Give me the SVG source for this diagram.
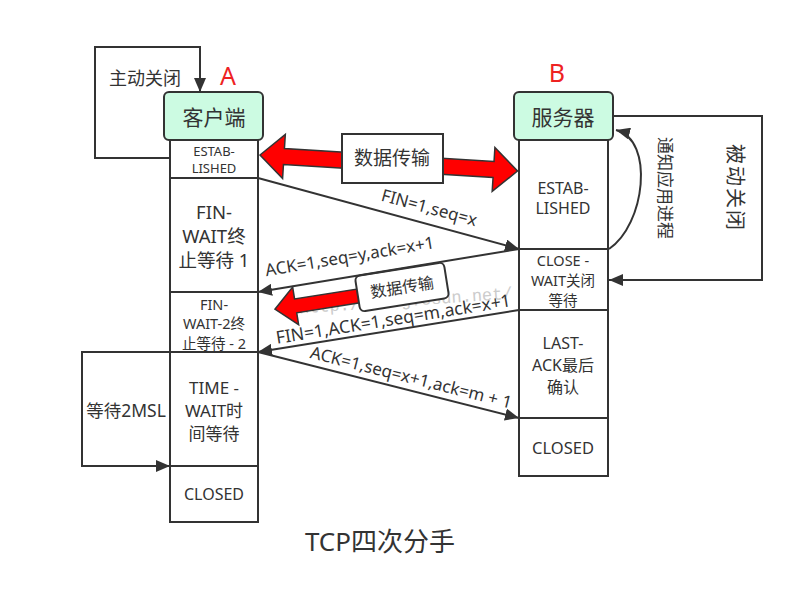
<svg xmlns="http://www.w3.org/2000/svg" width="796" height="590" viewBox="0 0 796 590">
<defs>
<style>
text{font-family:"Noto Sans","Noto Sans CJK SC",sans-serif;fill:#333;}
.cell-t{font-family:Lato,"Noto Sans CJK SC",sans-serif;}
.ln{fill:none;stroke:#333;stroke-width:2;}
.cell{fill:#fff;stroke:#333;stroke-width:2;}
.hdr{fill:#ccfbe2;stroke:#333;stroke-width:2;}
.c{text-anchor:middle;dominant-baseline:central;}
.red{fill:#ff0000;stroke:#333;stroke-width:1.5;}
.lab{fill:#ee2222;font-size:25px;}
</style>
<marker id="arr" markerUnits="userSpaceOnUse" markerWidth="14" markerHeight="12" refX="14" refY="6" orient="auto">
<path d="M0,0 L14,6 L0,12 z" fill="#333"/>
</marker>
</defs>
<rect width="796" height="590" fill="#fff"/>

<g id="client">
<rect class="cell" x="170" y="140" width="88" height="38"/>
<rect class="cell" x="170" y="178" width="88" height="114"/>
<rect class="cell" x="170" y="292" width="88" height="60"/>
<rect class="cell" x="170" y="352" width="88" height="114"/>
<rect class="cell" x="170" y="466" width="88" height="56"/>
<rect class="hdr" x="164" y="92" width="99" height="48" rx="5"/>
<text class="c" x="214" y="117" font-size="21">客户端</text>
<g class="cell-t">
<text class="c" x="214" y="150.5" font-size="13">ESTAB-</text>
<text class="c" x="214" y="167.5" font-size="13">LISHED</text>
<text class="c" x="214" y="211" font-size="18.5">FIN-</text>
<text class="c" x="214" y="235" font-size="18.5">WAIT终</text>
<text class="c" x="214" y="259" font-size="18.5">止等待 1</text>
<text class="c" x="214" y="304" font-size="14.5">FIN-</text>
<text class="c" x="214" y="323" font-size="14.5">WAIT-2终</text>
<text class="c" x="214" y="343" font-size="14.5">止等待 - 2</text>
<text class="c" x="214" y="387" font-size="17">TIME -</text>
<text class="c" x="214" y="410" font-size="17">WAIT时</text>
<text class="c" x="214" y="433" font-size="17">间等待</text>
<text class="c" x="214" y="494" font-size="16">CLOSED</text>
</g>
</g>

<g id="server">
<rect class="cell" x="519" y="140" width="89" height="109"/>
<rect class="cell" x="519" y="249" width="89" height="61"/>
<rect class="cell" x="519" y="310" width="89" height="108"/>
<rect class="cell" x="519" y="418" width="89" height="58"/>
<rect class="hdr" x="514" y="92" width="99" height="48" rx="5"/>
<text class="c" x="563" y="117" font-size="21">服务器</text>
<g class="cell-t">
<text class="c" x="563" y="188" font-size="16">ESTAB-</text>
<text class="c" x="563" y="208" font-size="16">LISHED</text>
<text class="c" x="563" y="260" font-size="14.5">CLOSE -</text>
<text class="c" x="563" y="279.5" font-size="14.5">WAIT关闭</text>
<text class="c" x="563" y="300" font-size="14.5">等待</text>
<text class="c" x="563" y="343" font-size="16">LAST-</text>
<text class="c" x="563" y="365" font-size="16">ACK最后</text>
<text class="c" x="563" y="387" font-size="16">确认</text>
<text class="c" x="563" y="447" font-size="16.5">CLOSED</text>
</g>
</g>

<g id="labels">
<text class="lab c" x="228" y="75">A</text>
<text class="lab c" x="557" y="72">B</text>
<text class="c" x="380" y="541" font-size="26">TCP四次分手</text>
</g>

<g id="data-transfer-big">
<g transform="translate(260,155) rotate(3.55)">
<polygon class="red" points="0,0 24,-22 24,-8 234,-8 234,-22 258,0 234,22 234,8 24,8 24,22"/>
</g>
<rect x="342" y="134" width="101" height="49" fill="#fff" stroke="#333" stroke-width="2"/>
<text class="c" x="392" y="158" font-size="19">数据传输</text>
</g>

<g id="watermark">
<text x="406" y="306" text-anchor="middle" transform="rotate(-4 406 306)" style="fill:#cccccc;font-family:'Liberation Mono',monospace;font-size:17px;">http://blog.csdn.net/</text>
</g>

<g id="data-transfer-small" transform="translate(402,287) rotate(-9)">
<polygon class="red" points="-129,2 -108,-17 -108,-5 -30,-5 -30,9 -108,9 -108,21"/>
<rect x="-45" y="-18" width="90" height="36" rx="5" fill="#fff" stroke="#333" stroke-width="2"/>
<text class="c" x="0" y="0" font-size="16">数据传输</text>
</g>

<g id="connectors">
<polyline class="ln" points="170,158 95,158 95,47 200,47 200,92" marker-end="url(#arr)"/>
<polyline class="ln" points="170,352 82,352 82,466 170,466" marker-end="url(#arr)"/>
<polyline class="ln" points="613,116 762,116 762,280 609,280" marker-end="url(#arr)"/>
<path class="ln" d="M609,249 C645,225 655,140 616,130" marker-end="url(#arr)"/>
<line class="ln" x1="258" y1="178" x2="519" y2="249" marker-end="url(#arr)"/>
<line class="ln" x1="519" y1="249" x2="258" y2="292" marker-end="url(#arr)"/>
<line class="ln" x1="519" y1="310" x2="258" y2="352" marker-end="url(#arr)"/>
<line class="ln" x1="258" y1="352" x2="519" y2="418" marker-end="url(#arr)"/>
</g>

<g id="connector-labels">
<text class="c" x="145" y="78" font-size="18">主动关闭</text>
<text class="c" x="126" y="410" font-size="17.5">等待2MSL</text>
<text class="c" font-size="17" transform="translate(665,188) rotate(90)">通知应用进程</text>
<text class="c" font-size="20" letter-spacing="2" transform="translate(735,188) rotate(90)">被动关闭</text>
<text text-anchor="middle" font-size="17" transform="translate(425,223) rotate(15.2) translate(0,-10)">FIN=1,seq=x</text>
<text text-anchor="middle" font-size="17" transform="translate(353,276) rotate(-9.4) translate(0,-14)">ACK=1,seq=y,ack=x+1</text>
<text text-anchor="middle" font-size="17.5" transform="translate(395,330) rotate(-9.1) translate(0,-5)">FIN=1,ACK=1,seq=m,ack=x+1</text>
<text text-anchor="middle" font-size="17" transform="translate(408,390) rotate(14.2) translate(0,-7)">ACK=1,seq=x+1,ack=m + 1</text>
</g>
</svg>
